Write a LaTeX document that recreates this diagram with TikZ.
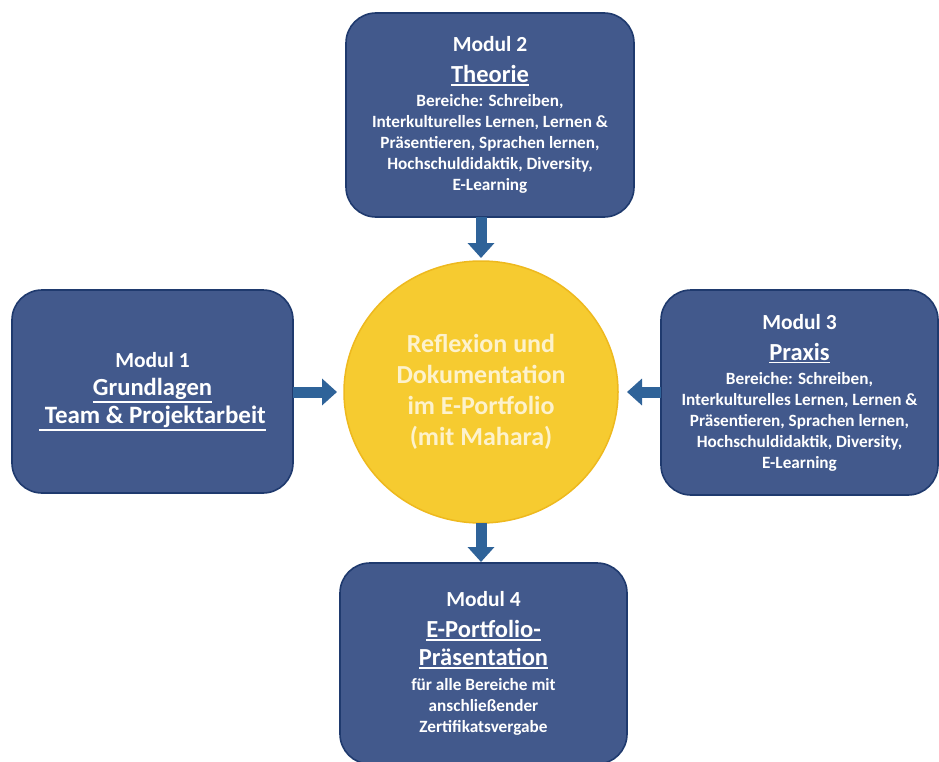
\documentclass[tikz,border=0pt]{standalone}
\usepackage{fontspec}
\setmainfont{Carlito}
\usetikzlibrary{arrows.meta,shapes.geometric}
\definecolor{boxblue}{HTML}{42598C}
\definecolor{boxline}{HTML}{1F3A6E}
\definecolor{sunfill}{HTML}{F6CB30}
\definecolor{sunline}{HTML}{EEB91E}
\definecolor{suntext}{HTML}{FDF2CC}
\definecolor{arrowblue}{HTML}{2F6399}
\tikzset{
  modbox/.style={draw=boxline, line width=1.6pt, fill=boxblue, rounded corners=30pt,
    text=white, align=center, inner sep=0pt, outer sep=0pt,
    font=\fontsize{17.2}{21}\selectfont\bfseries},
  sun/.style={ellipse, draw=sunline, line width=1.5pt, fill=sunfill, text=suntext,
    align=center, inner sep=0pt, outer sep=0pt,
    font=\fontsize{26}{31}\selectfont\bfseries},
  flow/.style={draw=arrowblue, line width=11pt, -{Triangle[width=26pt,length=15pt]}}
}
\newcommand{\ULN}[1]{\leavevmode\vtop{\hbox{#1}\kern1.4pt\hrule height 1.6pt}}
\newcommand{\MT}[1]{{\fontsize{21.5}{24}\selectfont #1}}
\newcommand{\BT}[1]{{\fontsize{24.5}{27}\selectfont\ULN{#1}}}
\begin{document}
\begin{tikzpicture}[x=1pt,y=-1pt]
\useasboundingbox (0,0) rectangle (939,762);
\clip (0,0) rectangle (939,762);
\fill[white] (0,0) rectangle (939,762);

\node[sun, minimum width=274pt, minimum height=262pt] (sun) at (481,392)
  {Reflexion und\\ Dokumentation\\ im E-Portfolio\\ (mit Mahara)};

\node[modbox, minimum width=288pt, minimum height=204pt] (m2) at (490,115)
  {\MT{Modul 2}\\[10pt] \BT{Theorie}\\[3pt] Bereiche: Schreiben,\\ Interkulturelles Lernen, Lernen \&\\ Präsentieren, Sprachen lernen,\\ Hochschuldidaktik, Diversity,\\ E-Learning};

\node[modbox, minimum width=281pt, minimum height=203pt,
      font=\fontsize{21.5}{28}\selectfont\bfseries] (m1) at (152.5,391.5)
  {Modul 1\\ {\fontsize{24.6}{27}\selectfont\ULN{Grundlagen}}\\ {\fontsize{25}{27}\selectfont\ULN{\ Team \& Projektarbeit}}};

\node[modbox, minimum width=277pt, minimum height=205pt] (m3) at (799.5,392.5)
  {\MT{Modul 3}\\[10pt] \BT{Praxis}\\[3pt] Bereiche: Schreiben,\\ Interkulturelles Lernen, Lernen \&\\ Präsentieren, Sprachen lernen,\\ Hochschuldidaktik, Diversity,\\ E-Learning};

\node[modbox, minimum width=287pt, minimum height=201pt] (m4) at (483.5,663.5)
  {\MT{Modul 4}\\[10pt] \BT{E-Portfolio-}\\[7pt] \BT{Präsentation}\\[4pt] für alle Bereiche mit\\ anschließender\\ Zertifikatsvergabe};

\draw[flow, shorten >=3pt] (m2.south -| sun.north) -- (sun.north);
\draw[flow, shorten >=7pt] (m1.east |- sun.west) -- (sun.west);
\draw[flow, shorten >=9pt] (m3.west |- sun.east) -- (sun.east);
\draw[flow, shorten >=1pt] (sun.south) -- (sun.south |- m4.north);
\end{tikzpicture}
\end{document}
